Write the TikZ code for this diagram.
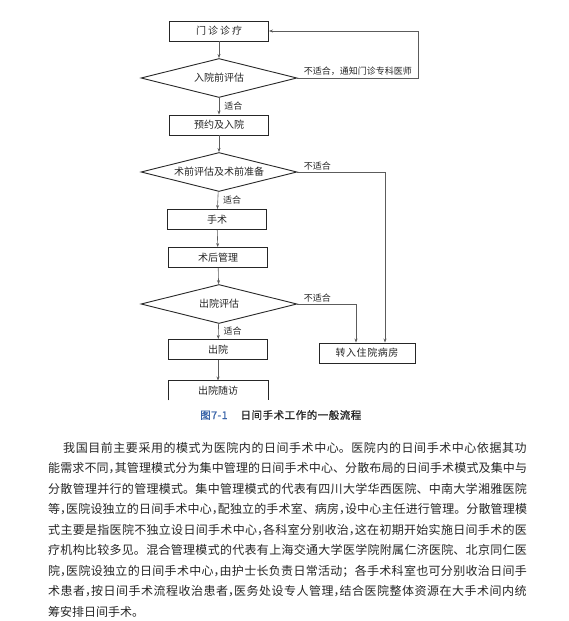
\documentclass[tikz,border=0pt]{standalone}
\usepackage{fontspec}
\usepackage{xcolor}
\usetikzlibrary{shapes.geometric}
\usetikzlibrary{arrows.meta}
\setmainfont{Noto Sans CJK SC}
\newfontfamily\cjk{Noto Sans CJK SC}
\newfontfamily\capfont[LetterSpace=5,FakeBold=1.2]{Noto Sans CJK SC}
\definecolor{figblue}{HTML}{3A64A8}
\definecolor{ink}{HTML}{262626}
\definecolor{wire}{HTML}{5C5C5C}
\XeTeXlinebreaklocale "zh"
\XeTeXlinebreakskip=0pt plus 1fil
\newcommand\dou{\makebox[0.5em][l]{，}}

\begin{document}
\begin{tikzpicture}[x=1pt,y=-1pt,
	box/.style={draw=ink,line width=0.9pt,rectangle,minimum width=99pt,minimum height=20pt,inner sep=0pt,font=\cjk\fontsize{10}{12}\selectfont,text=ink},
	judge/.style={draw=ink,line width=0.9pt,diamond,aspect=4,minimum width=156pt,minimum height=39pt,inner sep=0pt,font=\cjk\fontsize{10}{12}\selectfont,text=ink},
	flow/.style={draw=wire,line width=0.6pt,-{Stealth[length=4pt,width=3pt]}},
	tag/.style={font=\cjk\fontsize{9}{10}\selectfont,text=ink,inner sep=1pt},
	bodytext/.style={anchor=base west,inner sep=0pt,font=\cjk\fontsize{12}{14}\selectfont,text=ink},
	bodyline/.style={bodytext,text width=479pt,align=justify}]
	\useasboundingbox (0,0) rectangle (569,621);
	% main column
	\node[box] (menzhen) at (219,31) {\addfontfeature{LetterSpace=20}门诊诊疗};
	\node[judge] (pinggu) at (219,78) {入院前评估};
	\node[box] (yuyue) at (219,125) {预约及入院};
	\node[judge] (zhunbei) at (219,172) {术前评估及术前准备};
	\node[box] (shoushu) at (217,219.5) {手术};
	\node[box] (shuhou) at (218,257.5) {术后管理};
	\node[judge] (chuping) at (219,304) {出院评估};
	\node[box] (chuyuan) at (218,349.5) {出院};
	\node[box,draw=none,minimum height=19pt] (suifang) at (218,390.5) {出院随访};
	\draw[ink,line width=0.9pt] (suifang.south west) |- (suifang.north east) -- (suifang.south east);
	% side box
	\node[box,minimum width=96pt] (zhuanru) at (367,353) {\addfontfeature{LetterSpace=6}转入住院病房};
	\coordinate (backturn) at (418,78);
	% arrows
	\draw[flow] (menzhen) -- (pinggu);
	\draw[flow] (pinggu) -- node[tag,anchor=west,xshift=4pt]{适合} (yuyue);
	\draw[flow] (pinggu.east) -- node[tag,anchor=south west,pos=0,xshift=5pt,yshift=1pt]{不适合，通知门诊专科医师} (backturn) |- (menzhen.east);
	\draw[flow] (yuyue) -- (zhunbei);
	\draw[flow] (zhunbei) -- node[tag,anchor=west,xshift=4pt]{适合} (shoushu);
	\draw[flow] (zhunbei.east) -| node[tag,anchor=south west,pos=0,xshift=5pt,yshift=1pt]{不适合} ([xshift=18pt]zhuanru.north);
	\draw[flow] (shoushu) -- (shuhou);
	\draw[flow] (shuhou) -- (chuping);
	\draw[flow] (chuping) -- node[tag,anchor=west,xshift=4pt]{适合} (chuyuan);
	\draw[flow] (chuping.east) -| node[tag,anchor=south west,pos=0,xshift=5pt,yshift=1pt]{不适合} ([xshift=-11pt]zhuanru.north);
	\draw[flow] (chuyuan) -- (suifang);
	% caption
	\node[font=\capfont\fontsize{10.5}{12}\selectfont,text=ink,anchor=west,inner sep=0pt] (caption) at (200,415) {\textcolor{figblue}{图7-1}\hspace{13pt}日间手术工作的一般流程};
	% body text
	\foreach \txt [count=\i from 0] in {
		{\hspace*{15pt}我国目前主要采用的模式为医院内的日间手术中心。医院内的日间手术中心依据其功},
		{能需求不同\dou 其管理模式分为集中管理的日间手术中心、分散布局的日间手术模式及集中与},
		{分散管理并行的管理模式。集中管理模式的代表有四川大学华西医院、中南大学湘雅医院},
		{等\dou 医院设独立的日间手术中心\dou 配独立的手术室、病房\dou 设中心主任进行管理。分散管理模},
		{式主要是指医院不独立设日间手术中心\dou 各科室分别收治\dou 这在初期开始实施日间手术的医},
		{疗机构比较多见。混合管理模式的代表有上海交通大学医学院附属仁济医院、北京同仁医},
		{院\dou 医院设独立的日间手术中心\dou 由护士长负责日常活动；各手术科室也可分别收治日间手},
		{术患者\dou 按日间手术流程收治患者\dou 医务处设专人管理\dou 结合医院整体资源在大手术间内统}}
	\node[bodyline] (line\i) at (48,452.4+20.5*\i) {\parfillskip=0pt\relax\txt};
	\node[bodytext] (line8) at (48,616.4) {筹安排日间手术。};
\end{tikzpicture}
\end{document}
